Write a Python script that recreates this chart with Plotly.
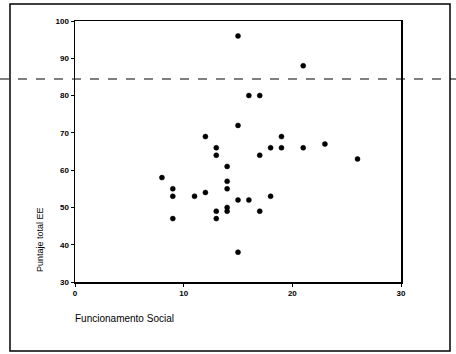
import plotly.graph_objects as go

# Data
funcionamento_social = [15, 21, 16, 17, 15, 12, 19, 13, 13, 14, 17, 18, 19, 21, 23, 26,
                        8, 9, 9, 9, 11, 12, 14, 14, 15, 16, 18, 13, 13, 14, 14, 17, 15]
puntaje_total_ee = [96, 88, 80, 80, 72, 69, 69, 66, 64, 61, 64, 66, 66, 66, 67, 63,
                    58, 55, 53, 47, 53, 54, 57, 55, 52, 52, 53, 49, 47, 50, 49, 49, 38]

x_ticks = [0, 10, 20, 30]
y_ticks = [30, 40, 50, 60, 70, 80, 90, 100]

L, R, T, B = 75, 55, 21, 72
W, H = 456, 354
pw, ph = W - L - R, H - T - B

def px(xp):
    return (xp - L) / pw

def py(yp):
    return (H - B - yp) / ph

fig = go.Figure()
fig.add_trace(go.Scatter(
    x=funcionamento_social, y=puntaje_total_ee, mode="markers",
    marker=dict(color="black", size=5, line=dict(color="black", width=0.5)),
    showlegend=False, cliponaxis=False, hoverinfo="skip",
))

axis_common = dict(
    showgrid=False, zeroline=False, showline=True, linecolor="black", linewidth=1.5,
    mirror=True, ticks="outside", ticklen=3, tickcolor="black", tickwidth=1,
    tickfont=dict(family="Liberation Sans", size=8, color="black", weight="bold"),
)

fig.update_xaxes(range=[0, 30], tickvals=x_ticks, **axis_common)
fig.update_yaxes(range=[30, 100], tickvals=y_ticks, **axis_common)

fig.update_layout(
    width=W, height=H,
    margin=dict(l=L, r=R, t=T, b=B),
    paper_bgcolor="white", plot_bgcolor="white",
    font=dict(family="Liberation Sans", color="black"),
    shapes=[
        # outer frame
        dict(type="rect", xref="paper", yref="paper",
             x0=px(10), x1=px(450), y0=py(351), y1=py(4),
             line=dict(color="black", width=1.5)),
        # horizontal dashed line across the page
        dict(type="line", xref="paper", yref="paper",
             x0=px(0), x1=px(456), y0=py(79), y1=py(79),
             line=dict(color="black", width=1, dash="dash")),
    ],
    annotations=[
        dict(text="Puntaje total EE", xref="paper", yref="paper",
             x=px(40), y=py(240), showarrow=False, textangle=-90,
             font=dict(size=9, family="Liberation Sans"), xanchor="center", yanchor="middle"),
        dict(text="Funcionamento Social", xref="paper", yref="paper",
             x=px(73), y=py(318), showarrow=False,
             font=dict(size=10, family="Liberation Sans"), xanchor="left", yanchor="middle"),
    ],
)

fig.write_html("out.html",
               config={"displayModeBar": False, "staticPlot": True},
               post_script="document.body.style.margin='0';document.body.style.overflow='hidden';")
